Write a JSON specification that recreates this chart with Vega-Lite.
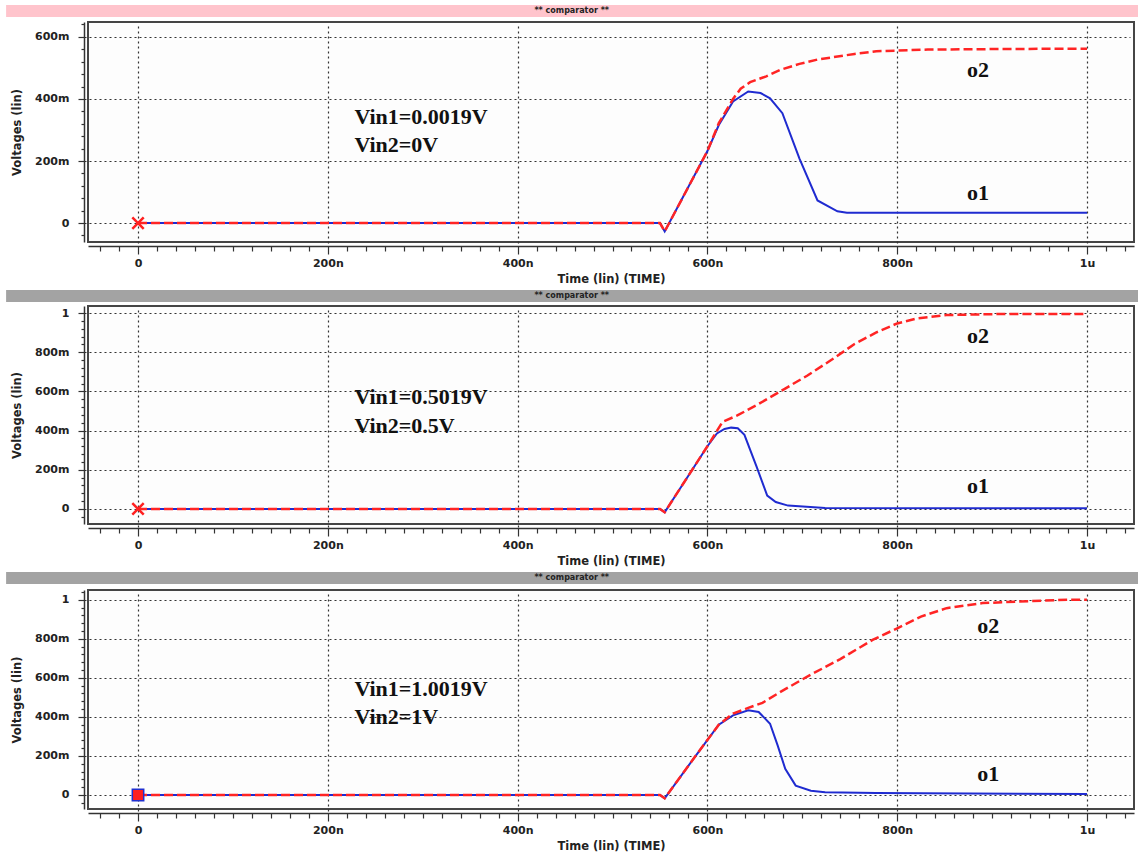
{
  "$schema": "https://vega.github.io/schema/vega-lite/v6.json",
  "background": "white",
  "padding": {"left": 6, "top": 5, "right": 0, "bottom": 0},
  "datasets": {
    "curves": [
      {"panel":1,"signal":"o1","t":0,"v":0},{"panel":1,"signal":"o1","t":550,"v":0},{"panel":1,"signal":"o1","t":555,"v":-27},{"panel":1,"signal":"o1","t":600,"v":232},{"panel":1,"signal":"o1","t":612,"v":316},{"panel":1,"signal":"o1","t":627,"v":392},{"panel":1,"signal":"o1","t":643,"v":424},{"panel":1,"signal":"o1","t":656,"v":419},{"panel":1,"signal":"o1","t":666,"v":402},{"panel":1,"signal":"o1","t":679,"v":354},{"panel":1,"signal":"o1","t":697,"v":208},{"panel":1,"signal":"o1","t":716,"v":73},{"panel":1,"signal":"o1","t":737,"v":38},{"panel":1,"signal":"o1","t":747,"v":33},{"panel":1,"signal":"o1","t":1000,"v":33},
      {"panel":1,"signal":"o2","t":0,"v":0},{"panel":1,"signal":"o2","t":550,"v":0},{"panel":1,"signal":"o2","t":555,"v":-27},{"panel":1,"signal":"o2","t":600,"v":232},{"panel":1,"signal":"o2","t":612,"v":322},{"panel":1,"signal":"o2","t":627,"v":400},{"panel":1,"signal":"o2","t":635,"v":433},{"panel":1,"signal":"o2","t":645,"v":454},{"panel":1,"signal":"o2","t":662,"v":473},{"panel":1,"signal":"o2","t":677,"v":494},{"panel":1,"signal":"o2","t":697,"v":513},{"panel":1,"signal":"o2","t":716,"v":527},{"panel":1,"signal":"o2","t":755,"v":545},{"panel":1,"signal":"o2","t":778,"v":554},{"panel":1,"signal":"o2","t":800,"v":556},{"panel":1,"signal":"o2","t":832,"v":559},{"panel":1,"signal":"o2","t":910,"v":561},{"panel":1,"signal":"o2","t":1000,"v":562},
      {"panel":2,"signal":"o1","t":0,"v":0},{"panel":2,"signal":"o1","t":550,"v":0},{"panel":2,"signal":"o1","t":555,"v":-17},{"panel":2,"signal":"o1","t":584,"v":200},{"panel":2,"signal":"o1","t":600,"v":320},{"panel":2,"signal":"o1","t":610,"v":385},{"panel":2,"signal":"o1","t":618,"v":408},{"panel":2,"signal":"o1","t":625,"v":415},{"panel":2,"signal":"o1","t":632,"v":412},{"panel":2,"signal":"o1","t":639,"v":378},{"panel":2,"signal":"o1","t":652,"v":213},{"panel":2,"signal":"o1","t":663,"v":68},{"panel":2,"signal":"o1","t":672,"v":35},{"panel":2,"signal":"o1","t":685,"v":17},{"panel":2,"signal":"o1","t":724,"v":5},{"panel":2,"signal":"o1","t":1000,"v":3},
      {"panel":2,"signal":"o2","t":0,"v":0},{"panel":2,"signal":"o2","t":550,"v":0},{"panel":2,"signal":"o2","t":555,"v":-17},{"panel":2,"signal":"o2","t":584,"v":200},{"panel":2,"signal":"o2","t":600,"v":320},{"panel":2,"signal":"o2","t":610,"v":398},{"panel":2,"signal":"o2","t":616,"v":445},{"panel":2,"signal":"o2","t":631,"v":476},{"panel":2,"signal":"o2","t":654,"v":536},{"panel":2,"signal":"o2","t":681,"v":612},{"panel":2,"signal":"o2","t":705,"v":680},{"panel":2,"signal":"o2","t":732,"v":765},{"panel":2,"signal":"o2","t":755,"v":842},{"panel":2,"signal":"o2","t":778,"v":901},{"panel":2,"signal":"o2","t":800,"v":947},{"panel":2,"signal":"o2","t":821,"v":973},{"panel":2,"signal":"o2","t":852,"v":990},{"panel":2,"signal":"o2","t":910,"v":995},{"panel":2,"signal":"o2","t":1000,"v":995},
      {"panel":3,"signal":"o1","t":0,"v":0},{"panel":3,"signal":"o1","t":550,"v":0},{"panel":3,"signal":"o1","t":555,"v":-17},{"panel":3,"signal":"o1","t":588,"v":203},{"panel":3,"signal":"o1","t":612,"v":360},{"panel":3,"signal":"o1","t":627,"v":408},{"panel":3,"signal":"o1","t":643,"v":434},{"panel":3,"signal":"o1","t":654,"v":425},{"panel":3,"signal":"o1","t":666,"v":365},{"panel":3,"signal":"o1","t":674,"v":254},{"panel":3,"signal":"o1","t":682,"v":134},{"panel":3,"signal":"o1","t":693,"v":48},{"panel":3,"signal":"o1","t":709,"v":22},{"panel":3,"signal":"o1","t":724,"v":14},{"panel":3,"signal":"o1","t":778,"v":10},{"panel":3,"signal":"o1","t":1000,"v":5},
      {"panel":3,"signal":"o2","t":0,"v":0},{"panel":3,"signal":"o2","t":550,"v":0},{"panel":3,"signal":"o2","t":555,"v":-17},{"panel":3,"signal":"o2","t":588,"v":203},{"panel":3,"signal":"o2","t":612,"v":360},{"panel":3,"signal":"o2","t":627,"v":417},{"panel":3,"signal":"o2","t":643,"v":446},{"panel":3,"signal":"o2","t":658,"v":472},{"panel":3,"signal":"o2","t":677,"v":528},{"panel":3,"signal":"o2","t":708,"v":614},{"panel":3,"signal":"o2","t":740,"v":696},{"panel":3,"signal":"o2","t":774,"v":794},{"panel":3,"signal":"o2","t":800,"v":854},{"panel":3,"signal":"o2","t":825,"v":914},{"panel":3,"signal":"o2","t":852,"v":957},{"panel":3,"signal":"o2","t":890,"v":983},{"panel":3,"signal":"o2","t":929,"v":991},{"panel":3,"signal":"o2","t":980,"v":1000},{"panel":3,"signal":"o2","t":1000,"v":1000}
    ],
    "notes": [
      {"panel":1,"kind":"vin","t":228,"v":342,"text":"Vin1=0.0019V"},{"panel":1,"kind":"vin","t":228,"v":252,"text":"Vin2=0V"},{"panel":1,"kind":"curve","t":885,"v":492,"text":"o2"},{"panel":1,"kind":"curve","t":885,"v":98,"text":"o1"},
      {"panel":2,"kind":"vin","t":228,"v":571,"text":"Vin1=0.5019V"},{"panel":2,"kind":"vin","t":228,"v":423,"text":"Vin2=0.5V"},{"panel":2,"kind":"curve","t":885,"v":884,"text":"o2"},{"panel":2,"kind":"curve","t":885,"v":116,"text":"o1"},
      {"panel":3,"kind":"vin","t":228,"v":543,"text":"Vin1=1.0019V"},{"panel":3,"kind":"vin","t":228,"v":397,"text":"Vin2=1V"},{"panel":3,"kind":"curve","t":896,"v":868,"text":"o2"},{"panel":3,"kind":"curve","t":896,"v":108,"text":"o1"}
    ],
    "markers": [{"panel":1,"t":0,"v":0},{"panel":2,"t":0,"v":0},{"panel":3,"t":0,"v":0}],
    "bars": [{"title":"** comparator **"}]
  },
  "config": {
    "view": {"stroke": "#454545", "strokeWidth": 2, "fill": "#fdfdfd"},
    "axis": {
      "domainColor": "#333", "domainWidth": 1.5, "tickColor": "#333", "tickWidth": 1.2,
      "labelFont": "DejaVu Sans", "labelFontSize": 11, "labelFontWeight": "bold", "labelColor": "#222",
      "titleFont": "DejaVu Sans", "titleFontSize": 11.5, "titleFontWeight": "bold", "titleColor": "#222",
      "gridColor": "#333", "gridDash": [2, 3], "gridWidth": 1.2,
      "labelOverlap": false, "labelFlush": false, "offset": 4, "tickCount": 200
    }
  },
  "spacing": 4,
  "vconcat": [
    {
      "spacing": 0,
      "vconcat": [
        {
          "width": 1046, "height": 12,
          "view": {"stroke": null, "fill": null},
          "data": {"name": "bars"},
          "layer": [
            {"mark": {"type": "rect", "color": "#ffc4cc"}, "encoding": {"x": {"datum": -139, "type": "quantitative", "scale": {"domain": [-52.7, 1049.5], "nice": false, "zero": false}, "axis": null}, "x2": {"datum": 1054}}},
            {"mark": {"type": "text", "font": "DejaVu Sans", "fontSize": 8, "fontWeight": "bold", "color": "#222"}, "encoding": {"x": {"datum": 457, "type": "quantitative"}, "text": {"field": "title"}}}
          ]
        },
        {
          "width": 1046, "height": 220,
          "layer": [
            {
              "data": {"name": "curves"}, "transform": [{"filter": "datum.panel === 1 && datum.signal === 'o1'"}],
              "mark": {"type": "line", "color": "#1f2bd0", "strokeWidth": 2},
              "encoding": {
                "x": {"field": "t", "type": "quantitative", "scale": {"domain": [-52.7, 1049.5], "nice": false, "zero": false},
                  "axis": {"title": "Time (lin) (TIME)", "tickCount": 200, "values": [-40,-20,0,20,40,60,80,100,120,140,160,180,200,220,240,260,280,300,320,340,360,380,400,420,440,460,480,500,520,540,560,580,600,620,640,660,680,700,720,740,760,780,800,820,840,860,880,900,920,940,960,980,1000,1020,1040],
                    "labelExpr": "datum.value === 0 ? '0' : (datum.value % 200 !== 0 ? '' : (datum.value >= 1000 ? (datum.value / 1000) + 'u' : datum.value + 'n'))",
                    "tickSize": {"condition": {"test": "datum.value % 200 === 0", "value": 8}, "value": 5},
                    "gridOpacity": {"condition": {"test": "datum.value % 200 === 0", "value": 1}, "value": 0},
                    "labelPadding": 3, "titlePadding": 5}},
                "y": {"field": "v", "type": "quantitative", "scale": {"domain": [-61, 648], "nice": false, "zero": false},
                  "axis": {"title": "Voltages (lin)", "tickCount": 200, "values": [-40,0,40,80,120,160,200,240,280,320,360,400,440,480,520,560,600,640],
                    "labelExpr": "datum.value === 0 ? '0' : (datum.value % 200 !== 0 ? '' : (datum.value >= 1000 ? (datum.value / 1000) + '' : datum.value + 'm'))",
                    "tickSize": {"condition": {"test": "datum.value % 200 === 0", "value": 6}, "value": 3},
                    "gridOpacity": {"condition": {"test": "datum.value % 200 === 0", "value": 1}, "value": 0},
                    "labelPadding": 9, "titlePadding": 12}}
              }
            },
            {
              "data": {"name": "curves"}, "transform": [{"filter": "datum.panel === 1 && datum.signal === 'o2'"}],
              "mark": {"type": "line", "color": "#ff2424", "strokeWidth": 2.5, "strokeDash": [9, 4]},
              "encoding": {"x": {"field": "t", "type": "quantitative"}, "y": {"field": "v", "type": "quantitative"}}
            },
            {
              "data": {"name": "notes"}, "transform": [{"filter": "datum.panel === 1 && datum.kind === 'vin'"}],
              "mark": {"type": "text", "font": "Liberation Serif", "fontSize": 22, "fontWeight": "bold", "align": "left", "color": "#111"},
              "encoding": {"x": {"field": "t", "type": "quantitative"}, "y": {"field": "v", "type": "quantitative"}, "text": {"field": "text"}}
            },
            {
              "data": {"name": "notes"}, "transform": [{"filter": "datum.panel === 1 && datum.kind === 'curve'"}],
              "mark": {"type": "text", "font": "Liberation Serif", "fontSize": 22, "fontWeight": "bold", "align": "center", "color": "#111"},
              "encoding": {"x": {"field": "t", "type": "quantitative"}, "y": {"field": "v", "type": "quantitative"}, "text": {"field": "text"}}
            },
            {
              "data": {"name": "markers"}, "transform": [{"filter": "datum.panel === 1"}],
              "mark": {"type": "point", "shape": "M-1,-1L1,1M-1,1L1,-1", "size": 130, "strokeWidth": 2.5, "color": "#ff2020", "filled": false, "opacity": 1},
              "encoding": {"x": {"field": "t", "type": "quantitative"}, "y": {"field": "v", "type": "quantitative"}}
            }
          ]
        }
      ]
    },
    {
      "spacing": 3,
      "vconcat": [
        {
          "width": 1046, "height": 12,
          "view": {"stroke": null, "fill": null},
          "data": {"name": "bars"},
          "layer": [
            {"mark": {"type": "rect", "color": "#a3a3a3"}, "encoding": {"x": {"datum": -139, "type": "quantitative", "scale": {"domain": [-52.7, 1049.5], "nice": false, "zero": false}, "axis": null}, "x2": {"datum": 1054}}},
            {"mark": {"type": "text", "font": "DejaVu Sans", "fontSize": 8, "fontWeight": "bold", "color": "#222"}, "encoding": {"x": {"datum": 457, "type": "quantitative"}, "text": {"field": "title"}}}
          ]
        },
        {
          "width": 1046, "height": 218,
          "layer": [
            {
              "data": {"name": "curves"}, "transform": [{"filter": "datum.panel === 2 && datum.signal === 'o1'"}],
              "mark": {"type": "line", "color": "#1f2bd0", "strokeWidth": 2},
              "encoding": {
                "x": {"field": "t", "type": "quantitative", "scale": {"domain": [-52.7, 1049.5], "nice": false, "zero": false},
                  "axis": {"title": "Time (lin) (TIME)", "tickCount": 200, "values": [-40,-20,0,20,40,60,80,100,120,140,160,180,200,220,240,260,280,300,320,340,360,380,400,420,440,460,480,500,520,540,560,580,600,620,640,660,680,700,720,740,760,780,800,820,840,860,880,900,920,940,960,980,1000,1020,1040],
                    "labelExpr": "datum.value === 0 ? '0' : (datum.value % 200 !== 0 ? '' : (datum.value >= 1000 ? (datum.value / 1000) + 'u' : datum.value + 'n'))",
                    "tickSize": {"condition": {"test": "datum.value % 200 === 0", "value": 8}, "value": 5},
                    "gridOpacity": {"condition": {"test": "datum.value % 200 === 0", "value": 1}, "value": 0},
                    "labelPadding": 3, "titlePadding": 5}},
                "y": {"field": "v", "type": "quantitative", "scale": {"domain": [-77, 1036], "nice": false, "zero": false},
                  "axis": {"title": "Voltages (lin)", "tickCount": 200, "values": [-40,0,40,80,120,160,200,240,280,320,360,400,440,480,520,560,600,640,680,720,760,800,840,880,920,960,1000],
                    "labelExpr": "datum.value === 0 ? '0' : (datum.value % 200 !== 0 ? '' : (datum.value >= 1000 ? (datum.value / 1000) + '' : datum.value + 'm'))",
                    "tickSize": {"condition": {"test": "datum.value % 200 === 0", "value": 6}, "value": 3},
                    "gridOpacity": {"condition": {"test": "datum.value % 200 === 0", "value": 1}, "value": 0},
                    "labelPadding": 9, "titlePadding": 12}}
              }
            },
            {
              "data": {"name": "curves"}, "transform": [{"filter": "datum.panel === 2 && datum.signal === 'o2'"}],
              "mark": {"type": "line", "color": "#ff2424", "strokeWidth": 2.5, "strokeDash": [9, 4]},
              "encoding": {"x": {"field": "t", "type": "quantitative"}, "y": {"field": "v", "type": "quantitative"}}
            },
            {
              "data": {"name": "notes"}, "transform": [{"filter": "datum.panel === 2 && datum.kind === 'vin'"}],
              "mark": {"type": "text", "font": "Liberation Serif", "fontSize": 22, "fontWeight": "bold", "align": "left", "color": "#111"},
              "encoding": {"x": {"field": "t", "type": "quantitative"}, "y": {"field": "v", "type": "quantitative"}, "text": {"field": "text"}}
            },
            {
              "data": {"name": "notes"}, "transform": [{"filter": "datum.panel === 2 && datum.kind === 'curve'"}],
              "mark": {"type": "text", "font": "Liberation Serif", "fontSize": 22, "fontWeight": "bold", "align": "center", "color": "#111"},
              "encoding": {"x": {"field": "t", "type": "quantitative"}, "y": {"field": "v", "type": "quantitative"}, "text": {"field": "text"}}
            },
            {
              "data": {"name": "markers"}, "transform": [{"filter": "datum.panel === 2"}],
              "mark": {"type": "point", "shape": "M-1,-1L1,1M-1,1L1,-1", "size": 130, "strokeWidth": 2.5, "color": "#ff2020", "filled": false, "opacity": 1},
              "encoding": {"x": {"field": "t", "type": "quantitative"}, "y": {"field": "v", "type": "quantitative"}}
            }
          ]
        }
      ]
    },
    {
      "spacing": 0,
      "vconcat": [
        {
          "width": 1046, "height": 12,
          "view": {"stroke": null, "fill": null},
          "data": {"name": "bars"},
          "layer": [
            {"mark": {"type": "rect", "color": "#a3a3a3"}, "encoding": {"x": {"datum": -139, "type": "quantitative", "scale": {"domain": [-52.7, 1049.5], "nice": false, "zero": false}, "axis": null}, "x2": {"datum": 1054}}},
            {"mark": {"type": "text", "font": "DejaVu Sans", "fontSize": 8, "fontWeight": "bold", "color": "#222"}, "encoding": {"x": {"datum": 457, "type": "quantitative"}, "text": {"field": "title"}}}
          ]
        },
        {
          "width": 1046, "height": 219,
          "layer": [
            {
              "data": {"name": "curves"}, "transform": [{"filter": "datum.panel === 3 && datum.signal === 'o1'"}],
              "mark": {"type": "line", "color": "#1f2bd0", "strokeWidth": 2},
              "encoding": {
                "x": {"field": "t", "type": "quantitative", "scale": {"domain": [-52.7, 1049.5], "nice": false, "zero": false},
                  "axis": {"title": "Time (lin) (TIME)", "tickCount": 200, "values": [-40,-20,0,20,40,60,80,100,120,140,160,180,200,220,240,260,280,300,320,340,360,380,400,420,440,460,480,500,520,540,560,580,600,620,640,660,680,700,720,740,760,780,800,820,840,860,880,900,920,940,960,980,1000,1020,1040],
                    "labelExpr": "datum.value === 0 ? '0' : (datum.value % 200 !== 0 ? '' : (datum.value >= 1000 ? (datum.value / 1000) + 'u' : datum.value + 'n'))",
                    "tickSize": {"condition": {"test": "datum.value % 200 === 0", "value": 8}, "value": 5},
                    "gridOpacity": {"condition": {"test": "datum.value % 200 === 0", "value": 1}, "value": 0},
                    "labelPadding": 3, "titlePadding": 5}},
                "y": {"field": "v", "type": "quantitative", "scale": {"domain": [-72, 1050], "nice": false, "zero": false},
                  "axis": {"title": "Voltages (lin)", "tickCount": 200, "values": [-40,0,40,80,120,160,200,240,280,320,360,400,440,480,520,560,600,640,680,720,760,800,840,880,920,960,1000,1040],
                    "labelExpr": "datum.value === 0 ? '0' : (datum.value % 200 !== 0 ? '' : (datum.value >= 1000 ? (datum.value / 1000) + '' : datum.value + 'm'))",
                    "tickSize": {"condition": {"test": "datum.value % 200 === 0", "value": 6}, "value": 3},
                    "gridOpacity": {"condition": {"test": "datum.value % 200 === 0", "value": 1}, "value": 0},
                    "labelPadding": 9, "titlePadding": 12}}
              }
            },
            {
              "data": {"name": "curves"}, "transform": [{"filter": "datum.panel === 3 && datum.signal === 'o2'"}],
              "mark": {"type": "line", "color": "#ff2424", "strokeWidth": 2.5, "strokeDash": [9, 4]},
              "encoding": {"x": {"field": "t", "type": "quantitative"}, "y": {"field": "v", "type": "quantitative"}}
            },
            {
              "data": {"name": "notes"}, "transform": [{"filter": "datum.panel === 3 && datum.kind === 'vin'"}],
              "mark": {"type": "text", "font": "Liberation Serif", "fontSize": 22, "fontWeight": "bold", "align": "left", "color": "#111"},
              "encoding": {"x": {"field": "t", "type": "quantitative"}, "y": {"field": "v", "type": "quantitative"}, "text": {"field": "text"}}
            },
            {
              "data": {"name": "notes"}, "transform": [{"filter": "datum.panel === 3 && datum.kind === 'curve'"}],
              "mark": {"type": "text", "font": "Liberation Serif", "fontSize": 22, "fontWeight": "bold", "align": "center", "color": "#111"},
              "encoding": {"x": {"field": "t", "type": "quantitative"}, "y": {"field": "v", "type": "quantitative"}, "text": {"field": "text"}}
            },
            {
              "data": {"name": "markers"}, "transform": [{"filter": "datum.panel === 3"}],
              "mark": {"type": "square", "size": 130, "color": "#ff2020", "filled": true, "stroke": "#2030d0", "strokeWidth": 1.5, "opacity": 1},
              "encoding": {"x": {"field": "t", "type": "quantitative"}, "y": {"field": "v", "type": "quantitative"}}
            }
          ]
        }
      ]
    }
  ]
}
